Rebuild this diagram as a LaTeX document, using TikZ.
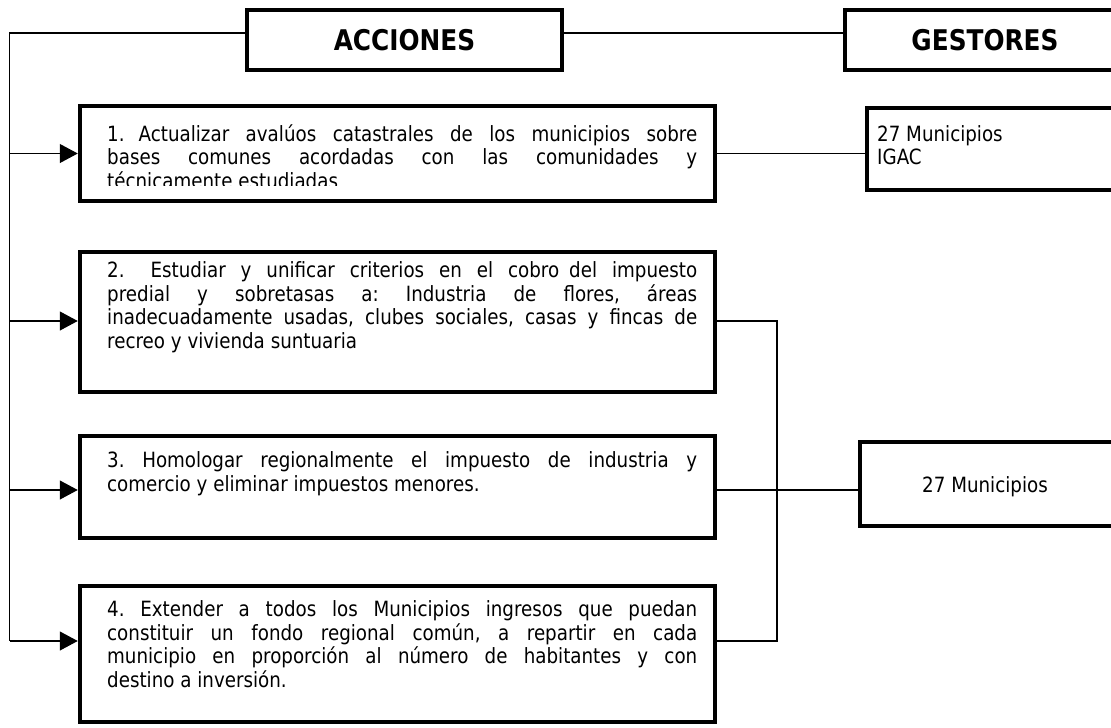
\documentclass[tikz,border=0pt]{standalone}
\usepackage{fontspec}
\setmainfont{DejaVu Sans}[FakeStretch=0.87]
\usetikzlibrary{arrows.meta}
\tikzset{
  box/.style={draw, line width=4.5pt, inner sep=0pt, minimum width=#1},
  wire/.style={line width=1.2pt},
  arr/.style={wire, -{Triangle[length=18pt,width=19pt]}},
  head/.style={font=\fontsize{28.5}{31}\selectfont\bfseries},
  body/.style={font=\fontsize{21}{23.5}\selectfont\frenchspacing, text width=590pt, align=justify, inner sep=0pt, anchor=north west},
  gtext/.style={font=\fontsize{21}{23.5}\selectfont, align=left, inner sep=0pt, anchor=north west}
}
\begin{document}
\begin{tikzpicture}[x=1pt,y=-1pt]
\useasboundingbox (0,0) rectangle (1111,728);
% header boxes
\node[box=315pt, minimum height=60pt] (acc) at (404.5,40) {};
\node[head] (acct) at (acc.center) {ACCIONES};
\node[box=280pt, minimum height=60pt] (ges) at (985,40) {};
\node[head] (gest) at (ges.center) {GESTORES};
% action texts (box 1 text is cut off at the bottom, as in the original)
\begin{scope}
\clip (80,100) rectangle (715,185);
\node[body] (t1) at (107,121) {\rule{0pt}{20pt}1.\hspace{14pt}Actualizar avalúos catastrales de los municipios sobre\linebreak bases comunes acordadas con las comunidades y\linebreak técnicamente estudiadas};
\end{scope}
\node[body] (t2) at (107,257.5) {\rule{0pt}{20pt}2.\hspace{26pt}Estudiar y unificar criterios en el cobro\hspace{10pt}del impuesto\linebreak predial y sobretasas a: Industria de flores, áreas\linebreak inadecuadamente usadas, clubes sociales, casas y fincas de\linebreak recreo y vivienda suntuaria};
\node[body] (t3) at (107,447.5) {\rule{0pt}{20pt}3. Homologar regionalmente el impuesto de industria y\linebreak comercio y eliminar impuestos menores.};
\node[body] (t4) at (107,596.5) {\rule{0pt}{20pt}4. Extender a todos los Municipios ingresos que puedan\linebreak constituir un fondo regional común, a repartir en cada\linebreak municipio en proporción al número de habitantes y con\linebreak destino a inversión.};
% action boxes
\node[box=635pt, minimum height=95pt] (b1) at (397.5,153.5) {};
\node[box=635pt, minimum height=140pt] (b2) at (397.5,322) {};
\node[box=635pt, minimum height=102pt] (b3) at (397.5,487) {};
\node[box=635pt, minimum height=136pt] (b4) at (397.5,654) {};
% gestor boxes
\node[box=260pt, minimum height=82pt] (g1) at (997,149) {};
\node[gtext] (g1t) at (877,121) {\rule{0pt}{20pt}27 Municipios\\IGAC};
\node[box=265pt, minimum height=84pt] (g2) at (992.5,484) {};
\node[font=\fontsize{21}{23.5}\selectfont, inner sep=0pt] (g2t) at (985,487) {27 Municipios};
% connectors
\coordinate (L) at (9.5,33);
\coordinate (R) at (777,321);
\draw[wire] ([yshift=7pt]acc.west) -- (L) -- (L |- 0,641);
\draw[wire] ([yshift=7pt]acc.east) -- ([yshift=7pt]ges.west);
\draw[arr] (L |- b1.west) -- (b1.west);
\draw[arr] (L |- 0,321) -- (b2.west |- 0,321);
\draw[arr] (L |- 0,490) -- (b3.west |- 0,490);
\draw[arr] (L |- 0,641) -- (b4.west |- 0,641);
\draw[wire] (b1.east) -- (g1.west |- b1.east);
\draw[wire] (b2.east |- R) -- (R) -- (R |- 0,641) -- (b4.east |- 0,641);
\draw[wire] (b3.east |- 0,490) -- (g2.west |- 0,490);
\end{tikzpicture}
\end{document}
